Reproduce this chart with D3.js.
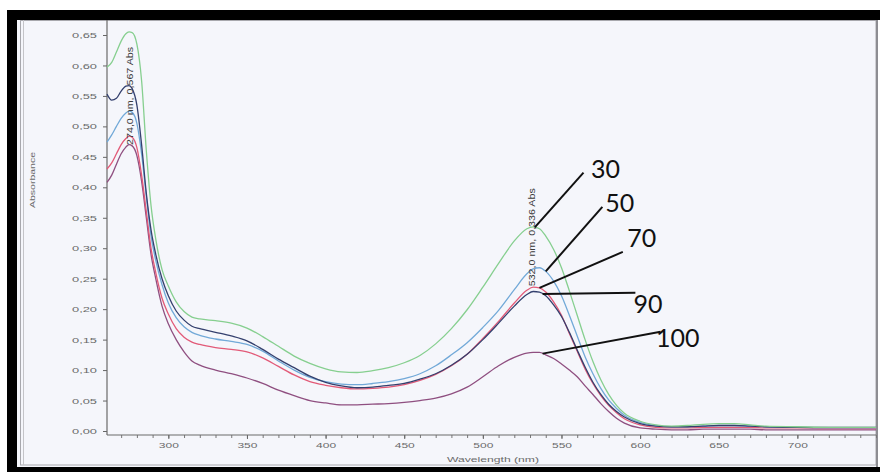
<!DOCTYPE html>
<html>
<head>
<meta charset="utf-8">
<script src="https://cdn.jsdelivr.net/npm/d3@7/dist/d3.min.js"></script>
<style>
  html, body { margin: 0; padding: 0; background: #ffffff; }
  svg { display: block; }
</style>
</head>
<body>
<svg id="chart" width="880" height="472"></svg>
<script>
// Wavelength grid (nm) shared by every spectrum
const wavelengths = [261,264,267,270,273,275,277,280,283,286,289,292,296,300,305,310,315,320,330,340,350,360,370,380,390,400,410,420,430,440,450,460,470,480,490,500,510,520,528,532,536,540,545,550,555,560,565,570,575,580,585,590,600,610,620,630,640,650,660,670,680,700,720,750];

// Absorbance of each sample
const abs30 = [0.597,0.605,0.622,0.640,0.652,0.655,0.654,0.635,0.575,0.460,0.370,0.315,0.265,0.238,0.212,0.196,0.187,0.184,0.181,0.177,0.169,0.155,0.139,0.123,0.111,0.102,0.097,0.096,0.099,0.104,0.112,0.124,0.143,0.168,0.199,0.236,0.275,0.312,0.332,0.335,0.332,0.320,0.298,0.268,0.230,0.190,0.150,0.114,0.084,0.060,0.042,0.029,0.016,0.010,0.008,0.009,0.011,0.012,0.012,0.010,0.008,0.007,0.006,0.006];
const abs50 = [0.474,0.486,0.500,0.513,0.522,0.525,0.523,0.505,0.455,0.385,0.320,0.280,0.240,0.210,0.186,0.171,0.162,0.157,0.151,0.147,0.142,0.131,0.115,0.100,0.088,0.081,0.077,0.076,0.078,0.081,0.086,0.094,0.107,0.125,0.145,0.170,0.198,0.232,0.258,0.266,0.268,0.262,0.246,0.222,0.190,0.156,0.122,0.094,0.070,0.051,0.037,0.026,0.014,0.009,0.007,0.007,0.008,0.009,0.009,0.008,0.007,0.006,0.005,0.005];
const abs70 = [0.430,0.440,0.455,0.470,0.480,0.484,0.482,0.465,0.420,0.360,0.300,0.260,0.218,0.192,0.168,0.154,0.146,0.142,0.137,0.134,0.130,0.120,0.106,0.092,0.081,0.075,0.071,0.069,0.070,0.072,0.076,0.083,0.093,0.107,0.126,0.152,0.180,0.210,0.231,0.236,0.235,0.228,0.212,0.190,0.160,0.131,0.102,0.078,0.058,0.042,0.030,0.020,0.010,0.006,0.005,0.005,0.006,0.006,0.006,0.006,0.005,0.005,0.004,0.004];
const abs90 = [0.553,0.543,0.546,0.558,0.566,0.567,0.562,0.535,0.470,0.390,0.330,0.290,0.250,0.222,0.197,0.182,0.172,0.168,0.162,0.156,0.148,0.134,0.118,0.104,0.090,0.080,0.074,0.071,0.072,0.075,0.078,0.085,0.094,0.108,0.126,0.150,0.177,0.205,0.224,0.229,0.228,0.222,0.207,0.188,0.162,0.133,0.105,0.080,0.060,0.044,0.032,0.023,0.012,0.008,0.007,0.007,0.008,0.009,0.009,0.008,0.007,0.006,0.006,0.006];
const abs100 = [0.408,0.420,0.438,0.455,0.466,0.470,0.468,0.452,0.410,0.350,0.290,0.250,0.205,0.176,0.150,0.130,0.115,0.108,0.100,0.094,0.087,0.078,0.067,0.058,0.050,0.046,0.043,0.043,0.044,0.045,0.047,0.050,0.054,0.061,0.072,0.089,0.107,0.121,0.128,0.129,0.129,0.125,0.119,0.110,0.100,0.089,0.074,0.060,0.045,0.032,0.021,0.013,0.005,0.003,0.002,0.002,0.003,0.003,0.003,0.003,0.002,0.002,0.002,0.002];

const seriesNames = ["30", "50", "70", "90", "100"];
const seriesValues = [abs30, abs50, abs70, abs90, abs100];
const seriesColors = ["#86cf8f", "#72a9d8", "#e25a78", "#34406e", "#8f4f80"];

// Axis ticks
const yTicks = [0,0.05,0.10,0.15,0.20,0.25,0.30,0.35,0.40,0.45,0.50,0.55,0.60,0.65];
const xMajorTicks = [300,350,400,450,500,550,600,650,700];
const xMinorTicks = d3.range(270, 751, 10);

// Peak pick annotations: [wavelength, absorbance, text]
const peakNotes = [
  [275.8, 0.550, "274,0 nm, 0,567 Abs"],
  [531.5, 0.318, "532,0 nm, 0,336 Abs"]
];

// Callout labels: label position (nm, Abs), line start (nm, Abs), target wavelength on the curve
const calloutLabelNm = [578, 587, 601, 605, 624];
const calloutLabelAbs = [0.432, 0.376, 0.318, 0.210, 0.154];
const calloutStartNm = [564, 576, 589, 597, 613];
const calloutStartAbs = [0.424, 0.368, 0.294, 0.227, 0.163];
const calloutTargetNm = [533, 540, 536, 538, 538];

const svg = d3.select("#chart");

// Frame
svg.append("rect").attr("x", 17).attr("y", 20).attr("width", 861).attr("height", 447).attr("fill", "#f5f6fb");
svg.append("rect").attr("x", 20.5).attr("y", 20.5).attr("width", 855.5).attr("height", 444.5)
  .attr("fill", "none").attr("stroke", "#a8a8ad").attr("stroke-width", 1);
svg.append("line").attr("x1", 23.5).attr("x2", 23.5).attr("y1", 20).attr("y2", 465).attr("stroke", "#c4c4c8");
svg.append("line").attr("x1", 877).attr("x2", 877).attr("y1", 20).attr("y2", 467).attr("stroke", "#8d8d92").attr("stroke-width", 2);
svg.append("rect").attr("x", 7).attr("y", 10).attr("width", 873).attr("height", 10).attr("fill", "#000");
svg.append("rect").attr("x", 7).attr("y", 10).attr("width", 10).attr("height", 462).attr("fill", "#000");
svg.append("rect").attr("x", 7).attr("y", 467).attr("width", 873).attr("height", 5).attr("fill", "#000");

// Scales
const x = d3.scaleLinear().domain([261, 750]).range([107, 876]);
const y = d3.scaleLinear().domain([0, 0.65]).range([431, 35]);
const plotTop = 20, plotBottom = 435;

const tickFont = "'Liberation Sans', Arial, sans-serif";
const fmt = d => d3.format(".2f")(d).replace(".", ",");

// Y axis
const yAxis = svg.append("g").attr("transform", "translate(107,0)")
  .call(d3.axisLeft(y).tickValues(yTicks).tickSize(4).tickPadding(6).tickFormat(fmt));
yAxis.select(".domain").remove();
yAxis.selectAll(".tick line").attr("stroke", "#666");
yAxis.selectAll(".tick text").attr("fill", "#6a6a6a").attr("font-family", tickFont).attr("font-size", 8)
  .attr("textLength", 25).attr("lengthAdjust", "spacingAndGlyphs");
svg.append("line").attr("x1", 107).attr("x2", 107).attr("y1", plotTop).attr("y2", plotBottom)
  .attr("stroke", "#6a6a6a").attr("stroke-width", 1.2);

// X axis
const xMinor = svg.append("g").attr("transform", `translate(0,${plotBottom})`)
  .call(d3.axisBottom(x).tickValues(xMinorTicks).tickSize(3).tickFormat(""));
xMinor.select(".domain").remove();
xMinor.selectAll(".tick line").attr("stroke", "#777");
const xAxis = svg.append("g").attr("transform", `translate(0,${plotBottom})`)
  .call(d3.axisBottom(x).tickValues(xMajorTicks).tickSize(4).tickPadding(3).tickFormat(d3.format("d")));
xAxis.select(".domain").remove();
xAxis.selectAll(".tick line").attr("stroke", "#666");
xAxis.selectAll(".tick text").attr("fill", "#6a6a6a").attr("font-family", tickFont).attr("font-size", 8)
  .attr("textLength", 20).attr("lengthAdjust", "spacingAndGlyphs");
svg.append("line").attr("x1", 107).attr("x2", 876).attr("y1", plotBottom).attr("y2", plotBottom)
  .attr("stroke", "#6a6a6a").attr("stroke-width", 1.2);

// Axis titles
svg.append("text").attr("transform", "translate(35,180) rotate(-90)").attr("text-anchor", "middle")
  .attr("font-family", tickFont).attr("font-size", 8).attr("fill", "#6a6a6a")
  .attr("textLength", 56).attr("lengthAdjust", "spacingAndGlyphs").text("Absorbance");
svg.append("text").attr("x", 493).attr("y", 462).attr("text-anchor", "middle")
  .attr("font-family", tickFont).attr("font-size", 8).attr("fill", "#6a6a6a")
  .attr("textLength", 92).attr("lengthAdjust", "spacingAndGlyphs").text("Wavelength (nm)");

// Spectra
const line = d3.line().x(d => x(d[0])).y(d => y(d[1])).curve(d3.curveMonotoneX);
const drawOrder = [4, 2, 1, 3, 0];
drawOrder.forEach(i => {
  const pts = wavelengths.map((w, k) => [w, seriesValues[i][k]]);
  svg.append("path").datum(pts).attr("d", line).attr("fill", "none")
    .attr("stroke", seriesColors[i]).attr("stroke-width", 1.3).attr("stroke-linejoin", "round");
});

// Peak pick texts
peakNotes.forEach(([w, a, t]) => {
  svg.append("text").attr("transform", `translate(${x(w)},${y(a)}) rotate(-90)`)
    .attr("text-anchor", "middle").attr("dominant-baseline", "central")
    .attr("font-family", tickFont).attr("font-size", 8.5).attr("fill", "#3a3a3a")
    .attr("textLength", 98).attr("lengthAdjust", "spacingAndGlyphs").text(t);
});

// Callouts
const valueAt = (vals, w) => d3.scaleLinear().domain(wavelengths).range(vals)(w);
seriesNames.forEach((name, i) => {
  const tx = calloutTargetNm[i];
  svg.append("line")
    .attr("x1", x(calloutStartNm[i])).attr("y1", y(calloutStartAbs[i]))
    .attr("x2", x(tx)).attr("y2", y(valueAt(seriesValues[i], tx)))
    .attr("stroke", "#111").attr("stroke-width", 2);
  svg.append("text").attr("x", x(calloutLabelNm[i])).attr("y", y(calloutLabelAbs[i]))
    .attr("text-anchor", "middle").attr("dominant-baseline", "central")
    .attr("font-family", "Lato, 'Open Sans', sans-serif").attr("font-size", 25).attr("fill", "#111")
    .text(name);
});
</script>
</body>
</html>
